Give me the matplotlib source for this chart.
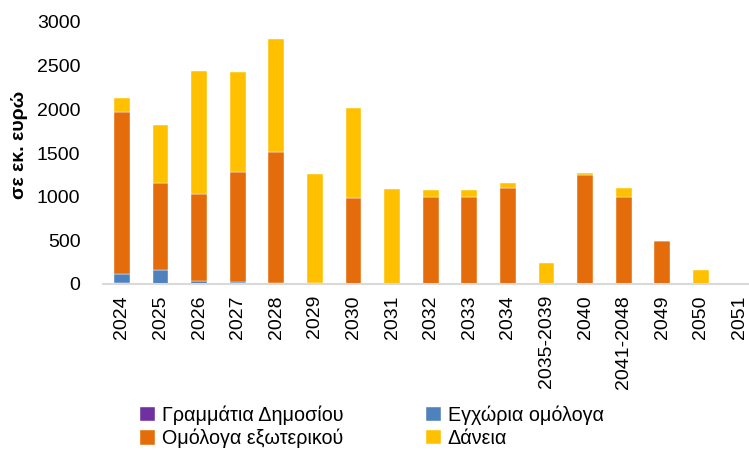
import matplotlib.pyplot as plt
import numpy as np

plt.rcParams['font.family'] = ['Liberation Sans', 'DejaVu Sans']

years = ['2024', '2025', '2026', '2027', '2028', '2029', '2030', '2031', '2032',
         '2033', '2034', '2035-2039', '2040', '2041-2048', '2049', '2050', '2051']

# σε εκ. ευρώ
gramatia = [15, 0, 0, 0, 5, 0, 0, 0, 0, 0, 0, 0, 0, 0, 0, 0, 0]
egxoria = [105, 163, 32, 25, 5, 8, 0, 0, 0, 0, 0, 0, 0, 0, 0, 0, 0]
exoterikou = [1847, 999, 1004, 1255, 1499, 0, 990, 0, 1000, 1000, 1094, 0, 1246, 1000, 498, 0, 0]
daneia = [165, 653, 1401, 1145, 1299, 1249, 1020, 1090, 82, 71, 65, 243, 23, 94, 0, 166, 0]

labels = ['Γραμμάτια Δημοσίου', 'Εγχώρια ομόλογα', 'Ομόλογα εξωτερικού', 'Δάνεια']
colors = ['#7030A0', '#4F81BD', '#E46C0A', '#FFC000']

fig = plt.figure(figsize=(7.49, 4.51), dpi=100)
ax = fig.add_axes([102.7/749, 167/451, 656/749, 262/451])

x = np.arange(len(years))
w = 0.41
bottom = np.zeros(len(years))
bars = []
for vals, lab, c in zip([gramatia, egxoria, exoterikou, daneia], labels, colors):
    b = ax.bar(x, vals, w, bottom=bottom, color=c, label=lab,
               edgecolor='white', linewidth=0.3)
    bars.append(b)
    bottom += np.array(vals)

ax.set_xlim(-0.5, len(years) - 0.5)
ax.set_ylim(0, 3000)
ax.set_yticks(range(0, 3001, 500))
ax.set_xticks(x)
ax.set_xticklabels(years, rotation=90)
ax.tick_params(axis='both', length=0, labelsize=14)
ax.tick_params(axis='y', pad=16)
ax.tick_params(axis='x', pad=8)

for s in ['top', 'right', 'left']:
    ax.spines[s].set_visible(False)
ax.spines['bottom'].set_color('#D9D9D9')
ax.spines['bottom'].set_linewidth(1.5)

fig.text(20/749, 1 - 145/451, 'σε εκ. ευρώ', rotation=90, fontsize=14,
         fontweight='bold', ha='center', va='center')

order = [0, 2, 1, 3]
fig.legend([bars[i] for i in order], [labels[i] for i in order], ncol=2,
           loc='center', bbox_to_anchor=(372/749, 1 - 427/451), frameon=False,
           fontsize=14.2, handlelength=0.75, handleheight=0.75, handletextpad=0.35,
           columnspacing=4.2, labelspacing=0.2, borderpad=0)

fig.savefig('out.png', dpi=100)
